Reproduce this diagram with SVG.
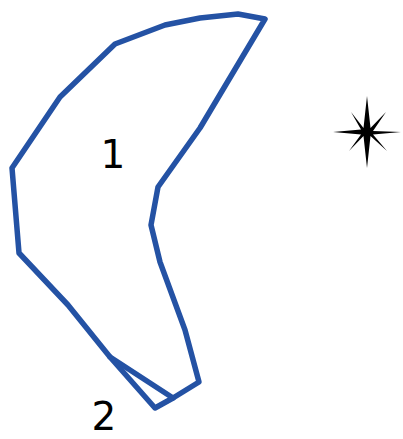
<svg xmlns="http://www.w3.org/2000/svg" width="403" height="439" viewBox="0 0 403 439">
<style>
.outline{fill:none;stroke:#2452a4;stroke-width:5.5;stroke-linejoin:round;stroke-linecap:round}
.lbl{font-family:"DejaVu Sans",Verdana,sans-serif;font-size:39px;fill:#000;text-anchor:middle}
</style>
<rect width="403" height="439" fill="#fff"/>
<g id="region1">
<path class="outline" d="M265,19 L238,14 L200,18 L165,25 L115,44 L60,97 L12,168 L19,253 L68,305 L110,357 L173,398 L199,382 L185,330 L160,262 L151,225 L158,187 L200,128 Z"/>
<text class="lbl" x="113" y="168">1</text>
</g>
<g id="region2">
<path class="outline" d="M110,357 L155,408 L173,398"/>
<text class="lbl" x="104" y="430" font-size="37">2</text>
</g>
<g id="star">
<path fill="#000" d="M367,96 L370.5,128 L386,112 L373,131 L401,132 L373,134.5 L387,151 L370.5,136 L367,168 L363.5,136 L349,151 L361,134.5 L333,132 L361,129.5 L351,112 L363.5,128 Z"/>
</g>
<g id="connectors"/>
</svg>
